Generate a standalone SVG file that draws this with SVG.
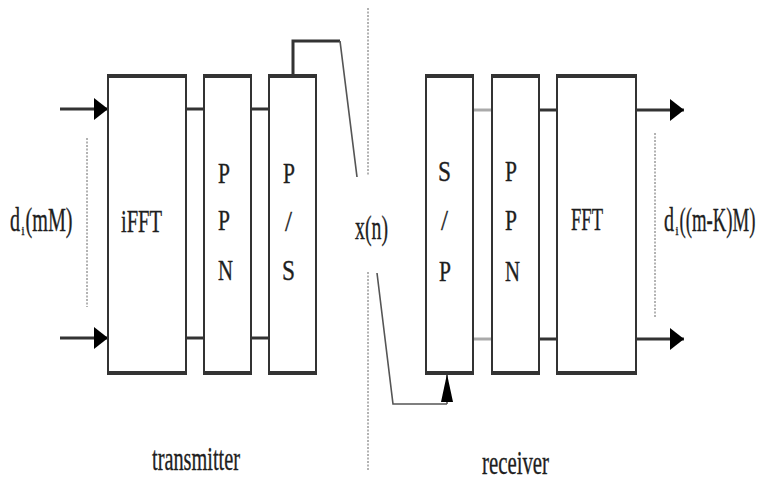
<svg xmlns="http://www.w3.org/2000/svg" width="763" height="484" viewBox="0 0 763 484">
<defs>
<style>
.box{fill:#fff;stroke:#333;stroke-width:2}
.edge{stroke:#333;stroke-width:4}
.t{font-family:"Liberation Serif","Times New Roman",serif;fill:#1e1e1e;stroke:#1e1e1e;stroke-width:0.35}
.w{stroke:#333;stroke-width:3;fill:none}
.wl{stroke:#aaa;stroke-width:3;fill:none}
.d{stroke:#555;stroke-width:1.6;fill:none}
.dash{stroke:#666;stroke-width:1;stroke-dasharray:2,1.5;fill:none}
</style>
<marker id="ah" viewBox="0 0 14 22" refX="14" refY="11" markerWidth="14" markerHeight="22" markerUnits="userSpaceOnUse" orient="auto">
<path d="M0,0 L14,11 L0,22 z" fill="#000"/>
</marker>
<marker id="au" viewBox="0 0 28 12" refX="28" refY="6" markerWidth="28" markerHeight="12" markerUnits="userSpaceOnUse" orient="auto">
<path d="M0,0 L28,6 L0,12 z" fill="#000"/>
</marker>
</defs>
<rect width="763" height="484" fill="#fff"/>

<g id="guides">
<line class="dash" x1="368" y1="8" x2="368" y2="175"/>
<line class="dash" x1="368" y1="272" x2="368" y2="470"/>
<line class="dash" x1="87" y1="138" x2="87" y2="307"/>
<line class="dash" x1="655" y1="133" x2="655" y2="318"/>
</g>

<g id="connectors">
<line class="w" x1="60" y1="109" x2="108" y2="109" marker-end="url(#ah)"/>
<line class="w" x1="60" y1="338" x2="108" y2="338" marker-end="url(#ah)"/>
<line class="w" x1="186" y1="109" x2="204" y2="109"/>
<line class="w" x1="251" y1="109" x2="269" y2="109"/>
<line class="w" x1="186" y1="338" x2="204" y2="338"/>
<line class="w" x1="251" y1="338" x2="269" y2="338"/>
<polyline class="w" points="293,75 293,41 340,41"/>
<line class="d" x1="340" y1="41" x2="357" y2="177"/>
<polyline class="d" points="377,273 393,404 447,404"/>
<line class="d" x1="447" y1="404" x2="447" y2="374" marker-end="url(#au)"/>
<line class="wl" x1="473" y1="110" x2="492" y2="110"/>
<line class="wl" x1="473" y1="339" x2="492" y2="339"/>
<line class="w" x1="539" y1="110" x2="557" y2="110"/>
<line class="w" x1="539" y1="339" x2="557" y2="339"/>
<line class="w" x1="636" y1="110" x2="684" y2="110" marker-end="url(#ah)"/>
<line class="w" x1="636" y1="339" x2="684" y2="339" marker-end="url(#ah)"/>
</g>

<g id="ifft">
<rect class="box" x="108" y="76" width="78" height="297"/>
<line class="edge" x1="107" y1="76" x2="187" y2="76"/>
<line class="edge" x1="107" y1="373" x2="187" y2="373"/>
<text class="t" x="121" y="232" font-size="31" textLength="41" lengthAdjust="spacingAndGlyphs">iFFT</text>
</g>

<g id="ppn-tx">
<rect class="box" x="204" y="76" width="47" height="297"/>
<line class="edge" x1="203" y1="76" x2="252" y2="76"/>
<line class="edge" x1="203" y1="373" x2="252" y2="373"/>
<text class="t" x="218" y="183" font-size="30" textLength="12" lengthAdjust="spacingAndGlyphs">P</text>
<text class="t" x="218" y="230" font-size="30" textLength="12" lengthAdjust="spacingAndGlyphs">P</text>
<text class="t" x="218" y="280" font-size="30" textLength="15" lengthAdjust="spacingAndGlyphs">N</text>
</g>

<g id="ps">
<rect class="box" x="269" y="76" width="47" height="297"/>
<line class="edge" x1="268" y1="76" x2="317" y2="76"/>
<line class="edge" x1="268" y1="373" x2="317" y2="373"/>
<text class="t" x="283" y="183" font-size="30" textLength="12" lengthAdjust="spacingAndGlyphs">P</text>
<text class="t" x="285" y="231" font-size="30" textLength="7" lengthAdjust="spacingAndGlyphs">/</text>
<text class="t" x="282" y="280" font-size="30" textLength="13" lengthAdjust="spacingAndGlyphs">S</text>
</g>

<g id="sp">
<rect class="box" x="426" y="76" width="47" height="297"/>
<line class="edge" x1="425" y1="76" x2="474" y2="76"/>
<line class="edge" x1="425" y1="373" x2="474" y2="373"/>
<text class="t" x="438" y="181" font-size="30" textLength="13" lengthAdjust="spacingAndGlyphs">S</text>
<text class="t" x="441" y="230" font-size="30" textLength="7" lengthAdjust="spacingAndGlyphs">/</text>
<text class="t" x="439" y="281" font-size="30" textLength="12" lengthAdjust="spacingAndGlyphs">P</text>
</g>

<g id="ppn-rx">
<rect class="box" x="492" y="76" width="47" height="297"/>
<line class="edge" x1="491" y1="76" x2="540" y2="76"/>
<line class="edge" x1="491" y1="373" x2="540" y2="373"/>
<text class="t" x="505" y="181" font-size="30" textLength="12" lengthAdjust="spacingAndGlyphs">P</text>
<text class="t" x="505" y="230" font-size="30" textLength="12" lengthAdjust="spacingAndGlyphs">P</text>
<text class="t" x="505" y="281" font-size="30" textLength="15" lengthAdjust="spacingAndGlyphs">N</text>
</g>

<g id="fft">
<rect class="box" x="557" y="76" width="79" height="297"/>
<line class="edge" x1="556" y1="76" x2="637" y2="76"/>
<line class="edge" x1="556" y1="373" x2="637" y2="373"/>
<text class="t" x="571" y="230" font-size="31" textLength="32" lengthAdjust="spacingAndGlyphs">FFT</text>
</g>

<g id="labels">
<text class="t" x="10" y="231" font-size="33" textLength="10" lengthAdjust="spacingAndGlyphs">d</text>
<text class="t" x="21.5" y="235" font-size="13" textLength="3" lengthAdjust="spacingAndGlyphs">i</text>
<text class="t" x="25.5" y="231" font-size="33" textLength="47" lengthAdjust="spacingAndGlyphs">(mM)</text>
<text class="t" x="355" y="239" font-size="34" textLength="33" lengthAdjust="spacingAndGlyphs">x(n)</text>
<text class="t" x="664" y="231" font-size="33" textLength="10" lengthAdjust="spacingAndGlyphs">d</text>
<text class="t" x="675.5" y="235" font-size="13" textLength="3" lengthAdjust="spacingAndGlyphs">i</text>
<text class="t" x="679.5" y="231" font-size="33" textLength="76" lengthAdjust="spacingAndGlyphs">((m-K)M)</text>
<text class="t" x="152" y="470" font-size="34" textLength="88" lengthAdjust="spacingAndGlyphs">transmitter</text>
<text class="t" x="482" y="474" font-size="34" textLength="67" lengthAdjust="spacingAndGlyphs">receiver</text>
</g>
</svg>
